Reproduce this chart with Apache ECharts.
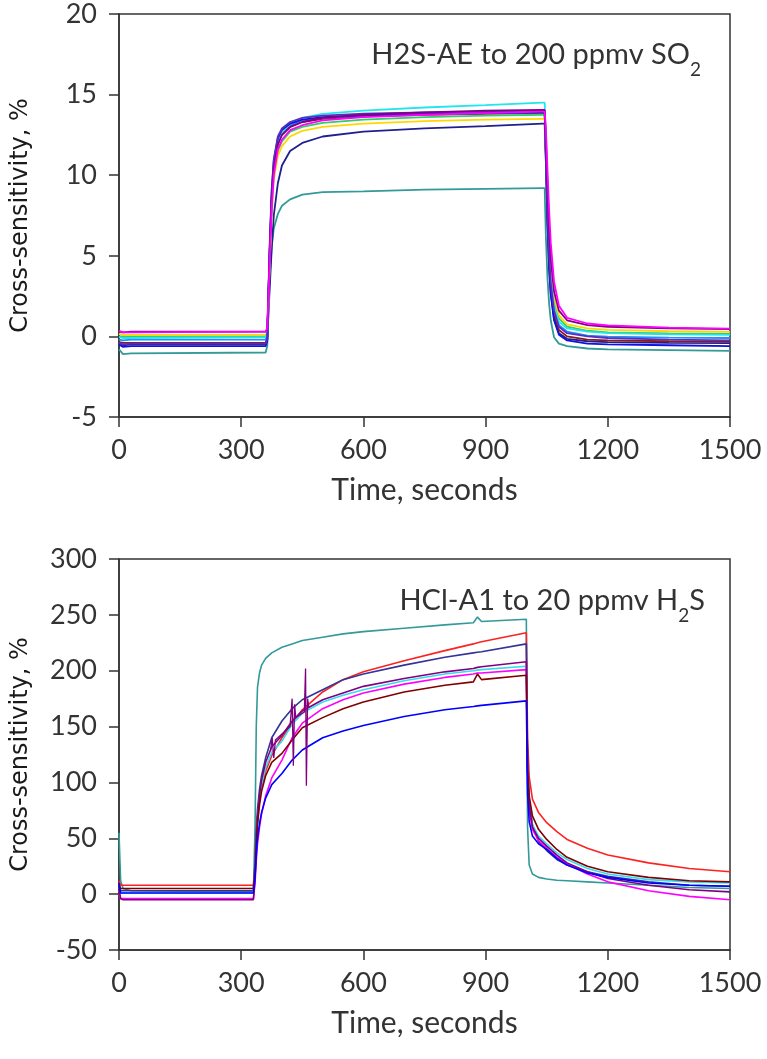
<!DOCTYPE html>
<html>
<head>
<meta charset="utf-8">
<script src="https://cdn.jsdelivr.net/npm/echarts@6/dist/echarts.min.js"></script>
<style>
html,body{margin:0;padding:0;background:#fff;}
#chart{width:767px;height:1059px;}
</style>
</head>
<body>
<div id="chart"></div>
<script>
// ---------- Top panel: H2S-AE to 200 ppmv SO2 ----------
const topTime = [0, 10, 30, 360, 364, 367, 370, 375, 380, 390, 400, 420, 450, 500, 600, 750, 900, 1040, 1045, 1048, 1052, 1056, 1060, 1068, 1080, 1100, 1150, 1200, 1350, 1500];
const topTeal    = [-0.8,-1.1,-1.05,-1.0,-0.6,1.8,3.8,5.6,6.7,7.6,8.1,8.5,8.8,8.95,9.0,9.1,9.15,9.2,9.2,6.2,3.6,2.0,1.0,-0.05,-0.45,-0.6,-0.75,-0.8,-0.85,-0.9];
const topNavy    = [-0.4,-0.55,-0.5,-0.5,-0.2,1.5,3.0,5.5,7.5,9.5,10.6,11.5,12.0,12.4,12.7,12.9,13.05,13.2,13.2,10.8,7.0,4.3,2.7,1.1,0.2,-0.15,-0.3,-0.35,-0.4,-0.42];
const topBlue    = [-0.5,-0.65,-0.6,-0.6,-0.3,2.7,5.5,9.0,10.9,12.3,12.8,13.2,13.45,13.6,13.72,13.8,13.85,13.9,13.9,11.0,7.0,4.2,2.6,1.0,0.1,-0.25,-0.45,-0.5,-0.55,-0.6];
const topMaroon  = [-0.35,-0.4,-0.4,-0.4,-0.1,2.6,5.2,8.6,10.5,12.0,12.5,13.0,13.3,13.5,13.65,13.75,13.8,13.85,13.85,11.3,7.4,4.6,3.0,1.3,0.4,0.0,-0.2,-0.25,-0.3,-0.33];
const topLtBlue  = [-0.2,-0.25,-0.2,-0.2,0.1,2.8,5.4,8.8,10.6,12.1,12.6,13.1,13.35,13.55,13.7,13.8,13.85,13.9,13.9,11.5,7.8,5.0,3.3,1.6,0.7,0.3,0.05,-0.02,-0.08,-0.1];
const topGreen   = [0.0,0.0,0.0,0.0,0.2,2.4,4.8,8.0,10.0,11.5,12.1,12.7,13.0,13.25,13.45,13.6,13.7,13.75,13.75,11.8,8.3,5.6,3.9,2.1,1.1,0.6,0.35,0.25,0.18,0.15];
const topYellow  = [0.15,0.1,0.1,0.1,0.3,2.2,4.5,7.6,9.7,11.2,11.8,12.4,12.75,13.0,13.2,13.35,13.45,13.5,13.5,11.6,8.4,5.9,4.2,2.4,1.3,0.75,0.5,0.4,0.32,0.28];
const topCyan    = [-0.05,-0.1,-0.1,-0.05,0.2,2.5,5.0,8.2,10.2,11.9,12.6,13.2,13.55,13.8,14.0,14.2,14.35,14.5,14.5,12.0,8.0,5.2,3.6,1.9,0.9,0.5,0.3,0.2,0.12,0.1];
const topViolet  = [-0.4,-0.5,-0.45,-0.45,-0.1,2.9,5.7,9.2,11.0,12.4,12.9,13.3,13.55,13.7,13.82,13.9,13.95,14.0,14.0,11.6,7.8,5.0,3.3,1.6,0.6,0.2,0.0,-0.1,-0.2,-0.25];
const topPurple  = [0.3,0.25,0.3,0.3,0.5,2.8,5.2,8.5,10.4,11.9,12.5,13.0,13.3,13.55,13.75,13.9,14.0,14.05,14.05,12.3,9.3,6.8,4.8,2.8,1.6,1.0,0.7,0.6,0.5,0.45];
const topMagenta = [0.35,0.25,0.25,0.3,0.5,2.5,4.8,8.0,10.0,11.6,12.2,12.8,13.1,13.4,13.6,13.75,13.85,13.95,13.95,12.9,10.3,7.8,5.8,3.4,1.9,1.15,0.8,0.68,0.55,0.48];

// ---------- Bottom panel: HCl-A1 to 20 ppmv H2S ----------
const botTime = [0, 4, 10, 30, 330, 334, 337, 340, 345, 350, 360, 375, 400, 425, 450, 500, 550, 600, 700, 800, 870, 880, 890, 1000, 1003, 1007, 1015, 1030, 1050, 1075, 1100, 1150, 1200, 1300, 1400, 1500];
const botTeal    = [55,12,5,3,2,60,150,185,198,205,211,216,221,224,227,230,233,235,238,241,243,248,244,246,60,26,18,15,13.5,12.5,12,11,10,8,6,5];
const botRed     = [12,8,8,8,8,25,50,68,84,96,110,124,140,153,165,181,192,199,209,218,224,225,226,234,140,105,85,73,64,56,49,41,35,28,23,20];
const botNavy    = [8,3,3,3,3,28,58,76,94,106,122,140,155,166,174,183,192,197,205,212,216,216.5,217,224,120,85,62,47,39,31,26,20,16,11,8,7];
const botPurple  = [5,-4,-5,-5,-5,15,45,68,88,102,118,132,142,155,164,174,180,186,193,199,202,203,203.5,208,110,80,60,50,43,35,28,20,14,8,4,2];
const botCyan    = [3,1,1,1,1,20,45,65,85,98,113,127,137,152,162,172,178,183,191,197,200,200.5,201,204,105,80,62,52,45,37,31,23,18,13,11,10];
const botMagenta = [0,-4,-4,-4,-4,10,30,45,60,72,88,104,120,140,153,166,174,180,188,194,197,198,198,201,100,75,58,48,41,33,27,18,11,3,-2,-5];
const botMaroon  = [8,5,5,5,5,20,45,62,80,92,106,118,126,138,149,158,166,172,181,187,190,197,192,196,110,88,70,58,49,40,33,25,20,15,12,11];
const botBlue    = [10,1,1,1,1,15,35,50,63,73,86,98,108,120,129,140,146,151,159,165,168,168.5,169,173,90,65,52,45,40,32,26,19,15,10,8,7];
const botNoiseTime = [372, 376, 380, 384, 420, 425, 428, 431, 434, 455, 458, 460, 463, 466];
const botNoiseVal  = [128, 140, 122, 138, 150, 175, 115, 170, 158, 163, 202, 97, 175, 167];

// ---------- Axis ticks ----------
const xTicks = {min: 0, max: 1500, interval: 300};
const topY = {min: -5, max: 20, interval: 5};
const botY = {min: -50, max: 300, interval: 50};

const pair = (t, v) => t.map((x, i) => [x, v[i]]);
const AX = '#333333';
const TXT = '#333333';

function mkSeries(grid, t, v, color, w) {
  return {
    type: 'line', xAxisIndex: grid, yAxisIndex: grid,
    data: pair(t, v), showSymbol: false, symbol: 'none',
    lineStyle: {color: color, width: w}, itemStyle: {color: color},
    animation: false, silent: true
  };
}

function xAx(grid) {
  return {
    gridIndex: grid, type: 'value', min: xTicks.min, max: xTicks.max, interval: xTicks.interval,
    name: 'Time, seconds', nameLocation: 'middle', nameGap: 58,
    nameTextStyle: {fontFamily: 'Lato', fontSize: 30, color: TXT},
    axisLine: {show: true, onZero: false, lineStyle: {color: AX, width: 1.5}},
    axisTick: {show: true, length: 10, lineStyle: {color: AX, width: 1.5}},
    axisLabel: {fontFamily: 'Lato', fontSize: 27, color: TXT, margin: 20, formatter: v => String(v)},
    splitLine: {show: false}
  };
}
function yAx(grid, r) {
  return {
    gridIndex: grid, type: 'value', min: r.min, max: r.max, interval: r.interval,
    name: 'Cross-sensitivity, %', nameLocation: 'middle', nameGap: 86, nameRotate: 90,
    nameTextStyle: {fontFamily: 'DejaVu Sans', fontSize: 24, color: '#1a1a1a'},
    axisLine: {show: true, lineStyle: {color: AX, width: 1.5}},
    axisTick: {show: true, length: 10, lineStyle: {color: AX, width: 1.5}},
    axisLabel: {fontFamily: 'Lato', fontSize: 27, color: TXT, margin: 22, formatter: v => String(v)},
    splitLine: {show: false}
  };
}

const rich = {
  a: {fontFamily: 'Lato', fontSize: 29, fontWeight: 'normal', color: TXT, lineHeight: 32, verticalAlign: 'middle'},
  s: {fontFamily: 'Lato', fontSize: 19, fontWeight: 'normal', color: TXT, lineHeight: 32, verticalAlign: 'bottom', padding: [0, 0, -8, 0]}
};

const option = {
  backgroundColor: '#ffffff',
  animation: false,
  title: [
    {text: '{a|H2S-AE to 200 ppmv SO}{s|2}', right: 61, top: 34, textStyle: {fontWeight: 'normal', rich: rich}},
    {text: '{a|HCl-A1 to 20 ppmv H}{s|2}{a|S}', right: 57, top: 580, textStyle: {fontWeight: 'normal', rich: rich}}
  ],
  grid: [
    {left: 119, top: 14, width: 611, height: 403, show: true, borderColor: AX, borderWidth: 1.5, backgroundColor: 'transparent'},
    {left: 119, top: 559, width: 611, height: 391, show: true, borderColor: AX, borderWidth: 1.5, backgroundColor: 'transparent'}
  ],
  xAxis: [xAx(0), xAx(1)],
  yAxis: [yAx(0, topY), yAx(1, botY)],
  series: [
    mkSeries(0, topTime, topTeal, '#339999', 1.8),
    mkSeries(0, topTime, topNavy, '#1F1F8F', 1.8),
    mkSeries(0, topTime, topMaroon, '#8B1A1A', 1.8),
    mkSeries(0, topTime, topLtBlue, '#1E90FF', 1.8),
    mkSeries(0, topTime, topGreen, '#33CC66', 1.8),
    mkSeries(0, topTime, topYellow, '#FFD700', 1.8),
    mkSeries(0, topTime, topCyan, '#22E5F0', 1.8),
    mkSeries(0, topTime, topBlue, '#1010E0', 1.8),
    mkSeries(0, topTime, topViolet, '#5A2DC0', 1.8),
    mkSeries(0, topTime, topPurple, '#800080', 1.8),
    mkSeries(0, topTime, topMagenta, '#FF00FF', 1.8),

    mkSeries(1, botTime, botTeal, '#339999', 1.6),
    mkSeries(1, botTime, botRed, '#FF2020', 1.6),
    mkSeries(1, botTime, botNavy, '#333399', 1.6),
    mkSeries(1, botTime, botCyan, '#33DDEE', 1.6),
    mkSeries(1, botTime, botMagenta, '#FF00FF', 1.6),
    mkSeries(1, botTime, botPurple, '#800080', 1.6),
    mkSeries(1, botTime, botMaroon, '#800000', 1.6),
    mkSeries(1, botTime, botBlue, '#0000FF', 1.6),
    mkSeries(1, botNoiseTime, botNoiseVal, '#800080', 1.3)
  ]
};

const chart = echarts.init(document.getElementById('chart'), null, {renderer: 'canvas'});
chart.setOption(option);
</script>
</body>
</html>
